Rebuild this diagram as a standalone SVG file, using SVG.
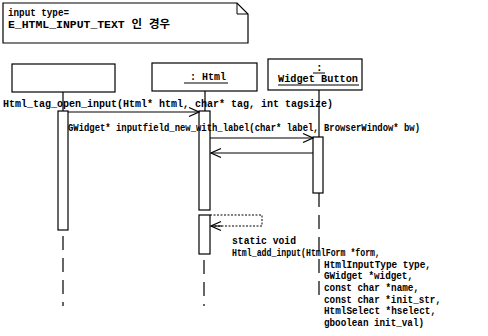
<svg xmlns="http://www.w3.org/2000/svg" width="488" height="336" viewBox="0 0 488 336">
<defs>
<marker id="open" markerWidth="12" markerHeight="12" refX="11" refY="6" orient="auto" markerUnits="userSpaceOnUse">
<polyline points="1,1.5 11,6 1,10.5" fill="none" stroke="#000" stroke-width="1.3"/>
</marker>
<style>
text{font-family:"Liberation Mono","Noto Sans CJK KR",monospace;font-size:11px;font-weight:bold;fill:#000}
.box{fill:#fff;stroke:#000;stroke-width:1.2}
.act{fill:#fff;stroke:#000;stroke-width:1.2}
.life{stroke:#000;stroke-width:1.2;fill:none}
.dash{stroke:#000;stroke-width:1.2;stroke-dasharray:14 8;fill:none}
.msg{stroke:#000;stroke-width:1.1;fill:none;marker-end:url(#open)}
.dmsg{stroke:#000;stroke-width:1;fill:none;stroke-dasharray:2 1.5}
.ul{stroke:#000;stroke-width:1}
</style>
</defs>
<rect width="488" height="336" fill="#fff"/>
<g id="note">
<path d="M3,3 H237 L248,14 V43 H3 Z" fill="#fff" stroke="#000" stroke-width="1.2"/>
<path d="M237,3 V14 H248" fill="none" stroke="#000" stroke-width="1"/>
<text x="8" y="16" textLength="61" lengthAdjust="spacingAndGlyphs">input type=</text>
<text x="8" y="28" textLength="162" lengthAdjust="spacingAndGlyphs">E_HTML_INPUT_TEXT 인 경우</text>
</g>
<g id="obj1">
<rect class="box" x="12" y="64" width="103" height="28"/>
<line class="life" x1="63" y1="92" x2="63" y2="111"/>
<line class="dash" x1="63" y1="236" x2="63" y2="306"/>
<rect class="act" x="58" y="111" width="10" height="119"/>
</g>
<g id="obj2">
<rect class="box" x="152" y="63" width="105" height="28"/>
<text x="190" y="80" textLength="36" lengthAdjust="spacingAndGlyphs">: Html</text>
<line class="ul" x1="184" y1="83" x2="228" y2="83"/>
<line class="life" x1="205" y1="91" x2="205" y2="111"/>
<rect class="act" x="199" y="111" width="11" height="99"/>
<rect class="act" x="199" y="215" width="11" height="39"/>
<line class="dash" x1="204" y1="260" x2="204" y2="306"/>
</g>
<g id="obj3">
<rect class="box" x="268" y="59" width="94" height="31"/>
<text x="316" y="71">:</text>
<line class="ul" x1="313" y1="73" x2="325" y2="73"/>
<text x="278" y="82" textLength="80" lengthAdjust="spacingAndGlyphs">Widget Button</text>
<line class="ul" x1="278" y1="85" x2="359" y2="85"/>
<line class="life" x1="319" y1="90" x2="319" y2="137"/>
<rect class="act" x="313" y="137" width="10" height="56"/>
<line class="dash" x1="319" y1="193" x2="319" y2="302"/>
</g>
<g id="connectors">
<line class="msg" x1="68" y1="112" x2="199" y2="112"/>
<line class="msg" x1="210" y1="138" x2="313" y2="138"/>
<line class="msg" x1="313" y1="153" x2="211" y2="153"/>
<polyline class="dmsg" points="210,215 262,215 262,226 212,226"/>
<line class="msg" x1="222" y1="226" x2="211" y2="226"/>
</g>
<g id="labels">
<text x="3" y="107" textLength="330" lengthAdjust="spacingAndGlyphs">Html_tag_open_input(Html* html, char* tag, int tagsize)</text>
<text x="68" y="131" textLength="352" lengthAdjust="spacingAndGlyphs">GWidget* inputfield_new_with_label(char* label, BrowserWindow* bw)</text>
<text x="232" y="244" textLength="64" lengthAdjust="spacingAndGlyphs">static void</text>
<text x="232" y="256" textLength="148" lengthAdjust="spacingAndGlyphs">Html_add_input(HtmlForm *form,</text>
<text x="324" y="268" textLength="107" lengthAdjust="spacingAndGlyphs">HtmlInputType type,</text>
<text x="324" y="279" textLength="89" lengthAdjust="spacingAndGlyphs">GWidget *widget,</text>
<text x="324" y="291" textLength="95" lengthAdjust="spacingAndGlyphs">const char *name,</text>
<text x="324" y="303" textLength="117" lengthAdjust="spacingAndGlyphs">const char *init_str,</text>
<text x="324" y="314" textLength="112" lengthAdjust="spacingAndGlyphs">HtmlSelect *hselect,</text>
<text x="324" y="326" textLength="100" lengthAdjust="spacingAndGlyphs">gboolean init_val)</text>
</g>
</svg>
